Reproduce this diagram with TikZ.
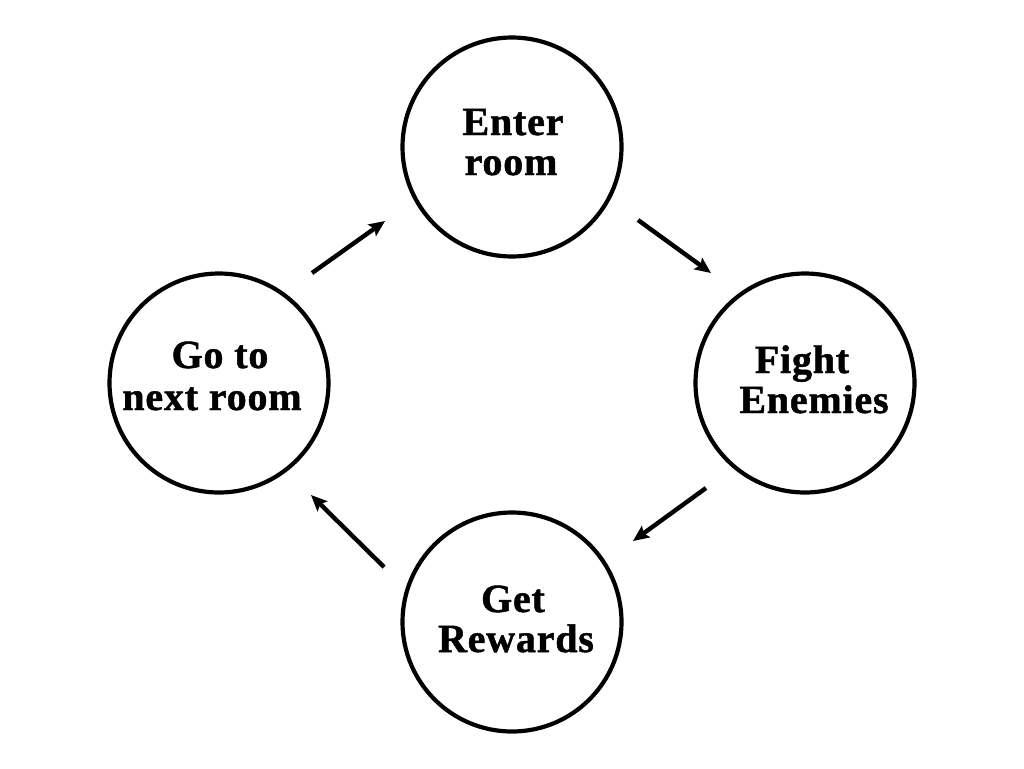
\documentclass[tikz,border=0pt]{standalone}
\usepackage{fontspec}
\setmainfont{Liberation Serif}
\usetikzlibrary{arrows.meta}
\newfontfamily\lblfont[LetterSpace=2,FakeBold=1.2]{Liberation Serif Bold}
\begin{document}
\begin{tikzpicture}[x=1pt,y=-1pt,
  stage/.style={circle,draw=black,line width=4.2pt,minimum size=219pt,inner sep=0pt},
  lbl/.style={anchor=base,inner sep=0pt,font=\lblfont\fontsize{40}{40}\selectfont},
  flow/.style={line width=4.4pt,-{Stealth[length=16pt,width=14pt,inset=3pt]}}]
\useasboundingbox (0,0) rectangle (1024,768);
\node[stage] (enter) at (512,147) {};
\node[stage] (fight) at (805,383) {};
\node[stage] (reward) at (512,622) {};
\node[stage] (next) at (219,383) {};
\node[lbl] (t1) at (513,135) {Enter};
\node[lbl] (t2) at (511,175) {room};
\node[lbl] (t3) at (802,373) {Fight};
\node[lbl] (t4) at (814,413) {Enemies};
\node[lbl] (t5) at (513,612) {Get};
\node[lbl] (t6) at (516,652) {Rewards};
\node[lbl] (t7) at (220,368) {Go to};
\node[lbl] (t8) at (212,410) {next room};
\coordinate (a1s) at (312,273); \coordinate (a1e) at (385,221);
\coordinate (a2s) at (638,220); \coordinate (a2e) at (711,273);
\coordinate (a3s) at (706,488); \coordinate (a3e) at (633,541);
\coordinate (a4s) at (384,567); \coordinate (a4e) at (311,495);
\draw[flow] (a1s) -- (a1e);
\draw[flow] (a2s) -- (a2e);
\draw[flow] (a3s) -- (a3e);
\draw[flow] (a4s) -- (a4e);
\end{tikzpicture}
\end{document}
